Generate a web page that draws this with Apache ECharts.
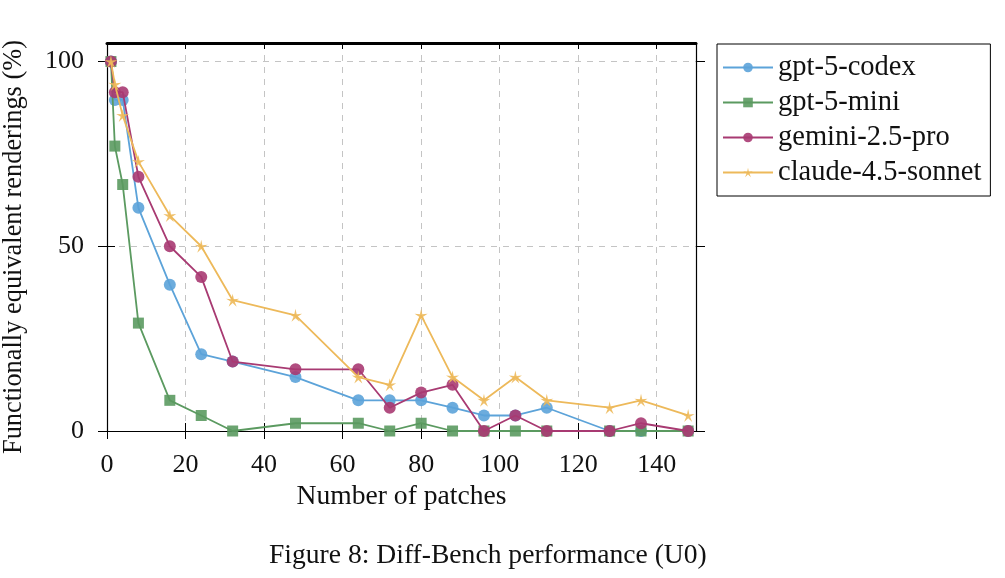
<!doctype html>
<html lang="en">
<head>
    <meta charset="UTF-8">
    <title>Diff-Bench performance (U0)</title>
    <style>
        html, body {
            margin: 0;
            padding: 0;
            background: #fff;
        }
        #main {
            width: 1005px;
            height: 578px;
        }
    </style>
    <script src="https://cdn.jsdelivr.net/npm/echarts@6/dist/echarts.min.js"></script>
</head>
<body>
<div id="main"></div>
<script type="text/javascript">
    // number of patches (x)
    var patches = [1, 2, 4, 8, 16, 24, 32, 48, 64, 72, 80, 88, 96, 104, 112, 128, 136, 148];
    // functionally equivalent renderings (%)
    var gptCodex  = [100, 89.6, 89.6, 60.4, 39.6, 20.8, 18.8, 14.6, 8.3, 8.3, 8.3, 6.3, 4.2, 4.2, 6.3, 0, 0, 0];
    var gptMini   = [100, 77.1, 66.7, 29.2, 8.3, 4.2, 0, 2.1, 2.1, 0, 2.1, 0, 0, 0, 0, 0, 0, 0];
    var gemini    = [100, 91.7, 91.7, 68.8, 50, 41.7, 18.8, 16.7, 16.7, 6.3, 10.4, 12.5, 0, 4.2, 0, 0, 2.1, 0];
    var claude    = [100, 93.8, 85.4, 72.9, 58.3, 50, 35.4, 31.3, 14.6, 12.5, 31.3, 14.6, 8.3, 14.6, 8.3, 6.3, 8.3, 4.2];
    var seriesNames = ['gpt-5-codex', 'gpt-5-mini', 'gemini-2.5-pro', 'claude-4.5-sonnet'];
    var xTicks = [0, 20, 40, 60, 80, 100, 120, 140];
    var yTicks = [0, 50, 100];

    var FONT = '"Liberation Serif", "DejaVu Serif", serif';
    var colors = ['#5ca3d9', '#5b9a60', '#a83a72', '#edb95a'];
    // five-armed star, like the pgfplots "star" mark
    var starPath = 'path://M100,0 L117.6,75.7 L195.1,69.1 L128.5,109.3 L158.8,180.9 L100,130 L41.2,180.9 L71.5,109.3 L4.9,69.1 L82.4,75.7 Z';

    function pairs(ys) {
        var out = [];
        for (var i = 0; i < patches.length; i++) {
            out.push([patches[i], ys[i]]);
        }
        return out;
    }

    function xAxisBase(extra) {
        var a = {
            type: 'value', min: 0, max: 150, interval: 20,
            axisLine: {show: false},
            axisTick: {show: false},
            axisLabel: {show: false},
            splitLine: {show: false}
        };
        return Object.assign(a, extra);
    }
    function yAxisBase(extra) {
        var a = {
            type: 'value', min: 0, max: 105, interval: 50,
            axisLine: {show: false},
            axisTick: {show: false},
            axisLabel: {show: false},
            splitLine: {show: false}
        };
        return Object.assign(a, extra);
    }

    var tickStyle = {color: '#000', width: 1};

    var myChart = echarts.init(document.getElementById('main'), null, {renderer: 'canvas'});
    var seriesData = [gptCodex, gptMini, gemini, claude];
    var symbols = ['circle', 'rect', 'circle', starPath];
    var sizes = [12, 11, 12, 13];
    var series = [];
    for (var k = 0; k < seriesData.length; k++) {
        series.push({
            name: seriesNames[k],
            type: 'line',
            xAxisIndex: 0,
            yAxisIndex: 0,
            data: pairs(seriesData[k]),
            symbol: symbols[k],
            symbolSize: sizes[k],
            showAllSymbol: true,
            color: colors[k],
            lineStyle: {width: 1.8, color: colors[k]},
            itemStyle: {color: colors[k], opacity: 0.9},
            z: 3 + k
        });
    }

    myChart.setOption({
        animation: false,
        title: {
            text: 'Figure 8: Diff-Bench performance (U0)',
            left: 269,
            top: 542,
            padding: 0,
            textStyle: {fontFamily: FONT, fontSize: 27.6, fontWeight: 'normal', color: '#111'}
        },
        legend: {
            orient: 'vertical',
            left: 717,
            top: 44,
            padding: [9, 9, 9, 5],
            itemGap: 6,
            itemWidth: 50,
            itemHeight: 12,
            borderColor: '#000',
            borderWidth: 1,
            data: seriesNames,
            textStyle: {fontFamily: FONT, fontSize: 28.5, color: '#111'}
        },
        grid: {left: 107, right: 309, top: 43, bottom: 147, outerBoundsMode: 'none', containLabel: false},
        xAxis: [
            xAxisBase({
                position: 'bottom',
                name: 'Number of patches',
                nameLocation: 'middle',
                nameGap: 52,
                nameTextStyle: {fontFamily: FONT, fontSize: 27.6, color: '#111'},
                axisLine: {show: true, onZero: false, lineStyle: {color: '#000', width: 1.2}},
                axisTick: {show: true, length: 8, lineStyle: tickStyle, customValues: xTicks},
                axisLabel: {show: true, margin: 21, fontFamily: FONT, fontSize: 26, color: '#111', customValues: xTicks},
                splitLine: {show: true, lineStyle: {color: '#c4c4c4', width: 1, type: [6, 6]}}
            }),
            xAxisBase({
                position: 'bottom',
                axisTick: {show: true, inside: true, length: 8, lineStyle: tickStyle, customValues: xTicks}
            }),
            xAxisBase({
                position: 'top',
                axisLine: {show: true, onZero: false, lineStyle: {color: '#000', width: 3}},
                axisTick: {show: true, inside: true, length: 6, lineStyle: tickStyle, customValues: xTicks}
            })
        ],
        yAxis: [
            yAxisBase({
                position: 'left',
                name: 'Functionally equivalent renderings (%)',
                nameLocation: 'middle',
                nameRotate: 90,
                nameGap: 80,
                nameTextStyle: {fontFamily: FONT, fontSize: 26.4, color: '#111', padding: [0, 20, 0, 0]},
                axisLine: {show: true, onZero: false, lineStyle: {color: '#000', width: 1.2}},
                axisTick: {show: true, length: 9, lineStyle: tickStyle, customValues: yTicks},
                axisLabel: {show: true, margin: 23, fontFamily: FONT, fontSize: 26, color: '#111', customValues: yTicks},
                splitLine: {show: true, lineStyle: {color: '#c4c4c4', width: 1, type: [6, 6]}}
            }),
            yAxisBase({
                position: 'left',
                axisTick: {show: true, inside: true, length: 8, lineStyle: tickStyle, customValues: yTicks}
            }),
            yAxisBase({
                position: 'right',
                axisLine: {show: true, onZero: false, lineStyle: {color: '#000', width: 1.2}},
                axisTick: {show: true, length: 9, lineStyle: tickStyle, customValues: yTicks}
            }),
            yAxisBase({
                position: 'right',
                axisTick: {show: true, inside: true, length: 8, lineStyle: tickStyle, customValues: yTicks}
            })
        ],
        series: series
    });
</script>
</body>
</html>
